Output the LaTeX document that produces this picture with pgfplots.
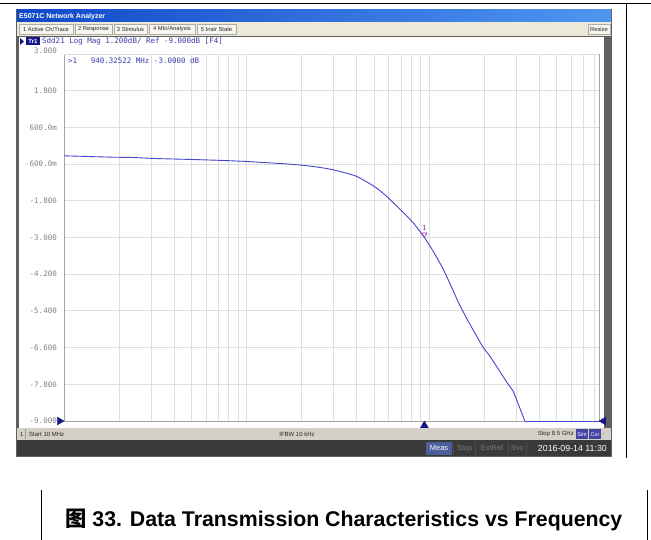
\documentclass[border=0pt]{standalone}
\usepackage{pgfplots}
\pgfplotsset{compat=1.18}
\usepackage{pgfplotstable}
\usepackage{fontspec}
\setmainfont{Liberation Sans}
\newfontfamily\monof{DejaVu Sans Mono}
\newfontfamily\cjk{Noto Sans CJK SC}
\definecolor{titleL}{RGB}{16,72,200}
\definecolor{titleR}{RGB}{80,150,240}
\definecolor{menubg}{RGB}{236,233,216}
\definecolor{btnbg}{RGB}{246,245,240}
\definecolor{btnbd}{RGB}{175,173,163}
\definecolor{winbd}{RGB}{95,95,95}
\definecolor{statbg}{RGB}{212,208,200}
\definecolor{darkbar}{RGB}{58,58,58}
\definecolor{gridc}{RGB}{222,222,222}
\definecolor{axisc}{RGB}{165,165,165}
\definecolor{labc}{RGB}{130,130,130}
\definecolor{tracec}{RGB}{70,70,205}
\definecolor{hdrc}{RGB}{60,60,170}
\definecolor{navy}{RGB}{20,20,140}
\definecolor{mkrc}{RGB}{150,60,170}
\definecolor{measc}{RGB}{75,95,155}
\definecolor{dimc}{RGB}{120,120,120}

\pgfplotstableread{
f db
10 -0.329
13.5 -0.351
18.3 -0.374
23.9 -0.384
31.5 -0.417
50.8 -0.450
65.4 -0.470
81.1 -0.490
100.5 -0.515
131 -0.557
162 -0.590
201 -0.636
246 -0.700
300 -0.790
396 -0.990
491 -1.300
537 -1.470
593 -1.690
690 -2.070
817 -2.520
940.3 -3.000
1050 -3.450
1191 -4.030
1324 -4.620
1470 -5.220
1667 -5.830
1972 -6.590
2147 -6.880
2692 -7.780
2877 -8.020
3336 -9.000
}\trace

\pgfplotstableread{
f db
3336 -9.000
8500 -9.000
}\floor

\begin{document}
\begin{tikzpicture}
\useasboundingbox (0,0) rectangle (651pt,-540pt);
\begin{scope}[x=1pt,y=-1pt]
  % page frame lines
  \draw[black, line width=1pt] (0,4) -- (651,4);
  \draw[black, line width=0.8pt] (626,4) -- (626,458);
  \draw[black, line width=0.8pt] (41,490) -- (41,540);
  \draw[black, line width=0.8pt] (647,490) -- (647,540);
  % window
  \fill[winbd] (16,9) rectangle (612,457);
  \shade[left color=titleL, right color=titleR] (17,10) rectangle (611,22);
  \node[anchor=west, text=white, font=\fontsize{7}{8}\selectfont\bfseries, inner sep=0pt] at (19,16.2) {E5071C Network Analyzer};
  \fill[menubg] (17,22) rectangle (611,36);
  \foreach \a/\b/\t in {19/73/{1 Active Ch/Trace},75/112/{2 Response},114/147/{3 Stimulus},149/195/{4 Mkr/Analysis},197/236/{5 Instr State},588/610/{Resize}}{
    \draw[btnbd, fill=btnbg, line width=0.5pt] (\a,24) rectangle (\b,34);
    \node[font=\fontsize{5.8}{7}\selectfont, inner sep=0pt, text=black!85] at ({(\a+\b)/2},29.2) {\t};
  }
  % white panel
  \fill[white] (19,37) rectangle (604,428);
  \fill[winbd] (604,37) rectangle (607,428);
  % status bar
  \fill[statbg] (17,428) rectangle (611,440);
  \node[anchor=west, font=\fontsize{6}{7}\selectfont, inner sep=0pt, text=black!85] at (20,434.3) {1};
  \draw[white] (25.5,429) -- (25.5,439);
  \draw[black!40] (25,429) -- (25,439);
  \node[anchor=west, font=\fontsize{6}{7}\selectfont, inner sep=0pt, text=black!85] at (29,434.3) {Start 10 MHz};
  \node[font=\fontsize{6}{7}\selectfont, inner sep=0pt, text=black!85] at (297,434.3) {IFBW 10 kHz};
  \node[anchor=east, font=\fontsize{6}{7}\selectfont, inner sep=0pt, text=black!85] at (574,434.3) {Stop 8.5 GHz};
  \fill[navy!80] (576,429) rectangle (588,439);
  \node[font=\fontsize{5.5}{6}\selectfont, inner sep=0pt, text=white] at (582,434.3) {Sim};
  \fill[navy!80] (589,429) rectangle (601,439);
  \node[font=\fontsize{5.5}{6}\selectfont, inner sep=0pt, text=white] at (595,434.3) {Cor};
  \node[font=\fontsize{5.5}{6}\selectfont, inner sep=0pt, text=black!50] at (604,434.3) {!};
  % dark bar
  \fill[darkbar] (17,440) rectangle (611,456);
  \fill[measc] (426,441.5) rectangle (452,454.5);
  \node[font=\fontsize{7.5}{8}\selectfont, inner sep=0pt, text=white] at (439,448.3) {Meas};
  \node[font=\fontsize{7.5}{8}\selectfont, inner sep=0pt, text=dimc] at (464.5,448.3) {Stop};
  \node[font=\fontsize{7.5}{8}\selectfont, inner sep=0pt, text=dimc] at (492,448.3) {ExtRef};
  \node[font=\fontsize{7.5}{8}\selectfont, inner sep=0pt, text=dimc] at (517,448.3) {Svc};
  \foreach \s in {453.5,475.5,508,526}{\draw[black!70] (\s,441.5) -- (\s,454.5);}
  \node[anchor=east, font=\fontsize{8.8}{9}\selectfont, inner sep=0pt, text=white] at (607,448.3) {2016-09-14 11:30};
  % trace header
  \fill[navy] (20,38) -- (24,41.5) -- (20,45) -- cycle;
  \fill[navy] (26,37.5) rectangle (40,45.5);
  \node[font=\fontsize{6}{7}\selectfont\bfseries, inner sep=0pt, text=white] at (33,41.7) {Tr1};
  \node[anchor=west, font=\monof\fontsize{7.5}{8}\selectfont, inner sep=0pt, text=hdrc] at (42,41.7) {Sdd21 Log Mag 1.200dB/ Ref -9.000dB [F4]};
\end{scope}

\begin{axis}[
  at={(64pt,-421pt)}, anchor=south west,
  scale only axis, width=535pt, height=367pt,
  xmode=log, log basis x=10, xmin=10, xmax=8500, ymin=-9, ymax=3,
  xtick={10,100,1000}, xticklabels={,,},
  minor xtick={20,30,40,50,60,70,80,90,200,300,400,500,600,700,800,900,2000,3000,4000,5000,6000,7000,8000},
  ytick={-9,-7.8,-6.6,-5.4,-4.2,-3,-1.8,-0.6,0.6,1.8},
  yticklabels={-9.000,-7.800,-6.600,-5.400,-4.200,-3.000,-1.800,-600.0m,600.0m,1.800},
  extra y ticks={3}, extra y tick labels={3.000},
  extra y tick style={yticklabel style={yshift=3.5pt}},
  grid=both,
  major grid style={gridc, line width=0.9pt},
  minor grid style={gridc, line width=0.9pt},
  major tick length=0pt, minor tick length=0pt,
  axis line style={draw=axisc, line width=0.9pt},
  yticklabel style={font=\monof\fontsize{7.5}{8}\selectfont, text=labc, inner sep=0pt, xshift=-7pt},
  clip=false,
]
\addplot[tracec, line width=0.9pt, smooth, tension=0.35] table[x=f, y=db] {\trace};
\addplot[tracec, line width=0.9pt] table[x=f, y=db] {\floor};
% marker 1
\addplot[only marks, mark=triangle, mark size=3pt, mark options={yshift=3pt, rotate=180, draw=mkrc, fill=white, line width=0.6pt}] coordinates {(940.32522,-3)};
\node[font=\monof\fontsize{7}{8}\selectfont, text=mkrc, inner sep=0pt] at (axis cs:940.32522,-3) [yshift=10pt] {1};
% edge markers
\addplot[only marks, mark=triangle*, mark size=4.5pt, navy, mark options={xshift=-4.5pt, rotate=-90}] coordinates {(10,-9)};
\addplot[only marks, mark=triangle*, mark size=4.5pt, navy, mark options={xshift=4.5pt, rotate=90}] coordinates {(8500,-9)};
\addplot[only marks, mark=triangle*, mark size=4.5pt, navy, mark options={yshift=-4.5pt}] coordinates {(940.32522,-9)};
% readout
\node[anchor=west, font=\monof\fontsize{7.5}{8}\selectfont, text=hdrc, inner sep=0pt] at (rel axis cs:0,1) [xshift=4pt, yshift=-6.5pt] {>1\ \ \ 940.32522 MHz -3.0000 dB};
\end{axis}

\begin{scope}[x=1pt,y=-1pt]
  \node[anchor=base west, font=\fontsize{21.3}{24}\selectfont\bfseries, inner sep=0pt] at (65,526) {{\cjk 图} 33. Data Transmission Characteristics vs Frequency};
\end{scope}
\end{tikzpicture}
\end{document}
